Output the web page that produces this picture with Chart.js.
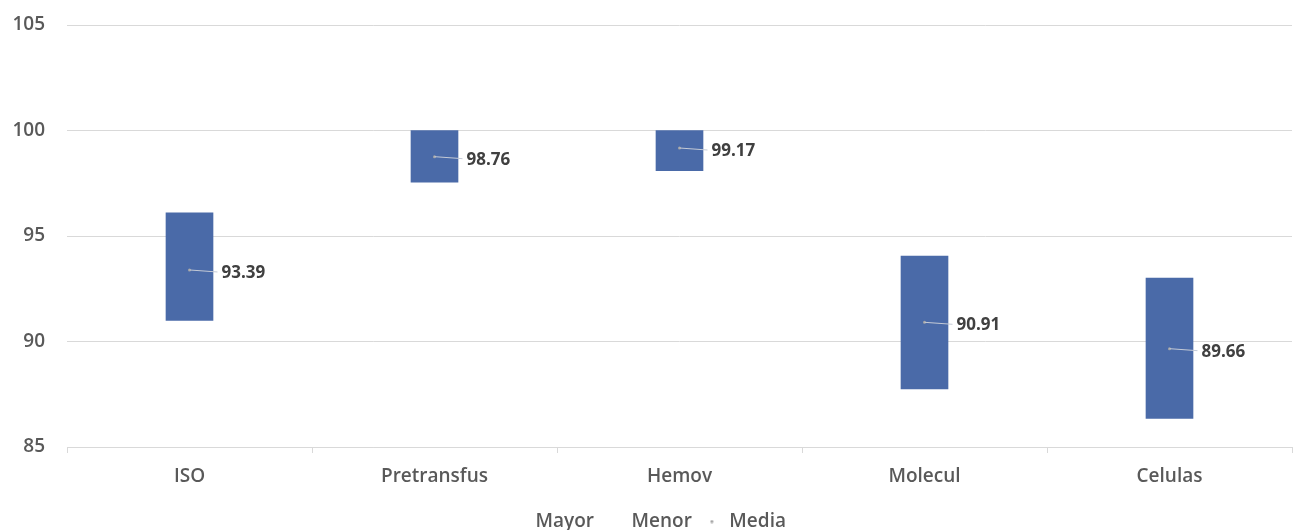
<!DOCTYPE html>
<html>
<head>
<meta charset="utf-8">
<script src="https://cdn.jsdelivr.net/npm/chart.js@4/dist/chart.umd.min.js"></script>
<style>
	html, body { margin: 0; padding: 0; background: #fff; }
	#wrap { width: 1296px; height: 530px; }
</style>
</head>
<body>
<div id="wrap"><canvas id="range"></canvas></div>
<script>
// chart values
const categories = ['ISO', 'Pretransfus', 'Hemov', 'Molecul', 'Celulas'];
const mayor = [96.1, 100, 100, 94.05, 93.0];
const menor = [91.0, 97.55, 98.1, 87.75, 86.35];
const media = [93.39, 98.76, 99.17, 90.91, 89.66];
const yTicks = [85, 90, 95, 100, 105];

const FONT = "'Open Sans', sans-serif";

// small grey dot used as the Media legend marker
const dot = document.createElement('canvas');
dot.width = 4; dot.height = 4;
(function () {
	const c = dot.getContext('2d');
	c.fillStyle = '#a5a5a5';
	c.beginPath();
	c.arc(2, 2, 1.6, 0, Math.PI * 2);
	c.fill();
})();

// draws the value next to each Media point with a short leader line
const mediaLabels = {
	id: 'mediaLabels',
	afterDatasetsDraw(chart) {
		const meta = chart.getDatasetMeta(3);
		const ctx = chart.ctx;
		ctx.save();
		ctx.font = "bold 17px " + FONT;
		ctx.textBaseline = 'middle';
		meta.data.forEach((pt, i) => {
			const x = pt.x, y = pt.y;
			ctx.strokeStyle = '#c4cad6';
			ctx.lineWidth = 1;
			ctx.beginPath();
			ctx.moveTo(x, y);
			ctx.lineTo(x + 28, y + 2);
			ctx.stroke();
			ctx.fillStyle = '#404040';
			ctx.fillText(media[i].toFixed(2), x + 32, y + 3);
		});
		ctx.restore();
	}
};

var ctx = document.getElementById('range');

var chartData = {
	labels: categories,
	datasets: [
		{
			type: 'bar',
			label: 'Rango',
			data: categories.map((c, i) => [menor[i], mayor[i]]),
			backgroundColor: '#4a6aa8',
			borderWidth: 0,
			barThickness: 47,
			order: 2
		},
		{
			type: 'line',
			label: 'Mayor',
			data: mayor,
			showLine: false,
			pointRadius: 0,
			borderColor: 'rgba(0,0,0,0)',
			backgroundColor: 'rgba(0,0,0,0)',
			order: 1
		},
		{
			type: 'line',
			label: 'Menor',
			data: menor,
			showLine: false,
			pointRadius: 0,
			borderColor: 'rgba(0,0,0,0)',
			backgroundColor: 'rgba(0,0,0,0)',
			order: 1
		},
		{
			type: 'line',
			label: 'Media',
			data: media,
			showLine: false,
			pointRadius: 1.5,
			pointBorderWidth: 0,
			pointBackgroundColor: '#a5a5a5',
			borderColor: '#a5a5a5',
			backgroundColor: '#a5a5a5',
			order: 1
		}
	]
};

var chartOptions = {
	responsive: true,
	maintainAspectRatio: false,
	animation: false,
	layout: { padding: { top: 25, right: 0, bottom: -11, left: 0 } },
	scales: {
		x: {
			offset: true,
			grid: {
				offset: true,
				drawOnChartArea: false,
				drawTicks: true,
				tickLength: 6,
				color: '#d9d9d9'
			},
			border: { color: '#d9d9d9' },
			ticks: {
				color: '#595959',
				font: { family: FONT, size: 19, weight: '600', lineHeight: 1 },
				padding: 14
			}
		},
		y: {
			min: 85,
			max: 105,
			afterFit: (scale) => {
				scale.width = 67;
				scale.paddingTop = 0;
				scale.paddingBottom = 0;
			},
			afterBuildTicks: (scale) => { scale.ticks = yTicks.map(v => ({ value: v })); },
			grid: { color: '#d9d9d9', drawTicks: false },
			border: { display: false },
			ticks: {
				color: '#595959',
				font: { family: FONT, size: 19, weight: '600' },
				padding: 22
			}
		}
	},
	plugins: {
		tooltip: { enabled: false },
		legend: {
			position: 'bottom',
			labels: {
				color: '#595959',
				font: { family: FONT, size: 19, weight: '600', lineHeight: 1 },
				usePointStyle: true,
				pointStyleWidth: 16,
				boxHeight: 4,
				padding: 12,
				filter: (item) => item.datasetIndex !== 0,
				generateLabels: (chart) => {
					const items = Chart.defaults.plugins.legend.labels.generateLabels(chart);
					items.forEach(it => {
						it.lineWidth = 0;
						if (it.text === 'Media') {
							it.pointStyle = dot;
							it.fillStyle = '#a5a5a5';
							it.strokeStyle = '#a5a5a5';
						} else {
							it.pointStyle = 'circle';
							it.fillStyle = 'rgba(0,0,0,0)';
							it.strokeStyle = 'rgba(0,0,0,0)';
						}
					});
					return items;
				}
			}
		}
	}
};

var rangeChart = new Chart(ctx, {
	data: chartData,
	options: chartOptions,
	plugins: [mediaLabels]
});
</script>
</body>
</html>
